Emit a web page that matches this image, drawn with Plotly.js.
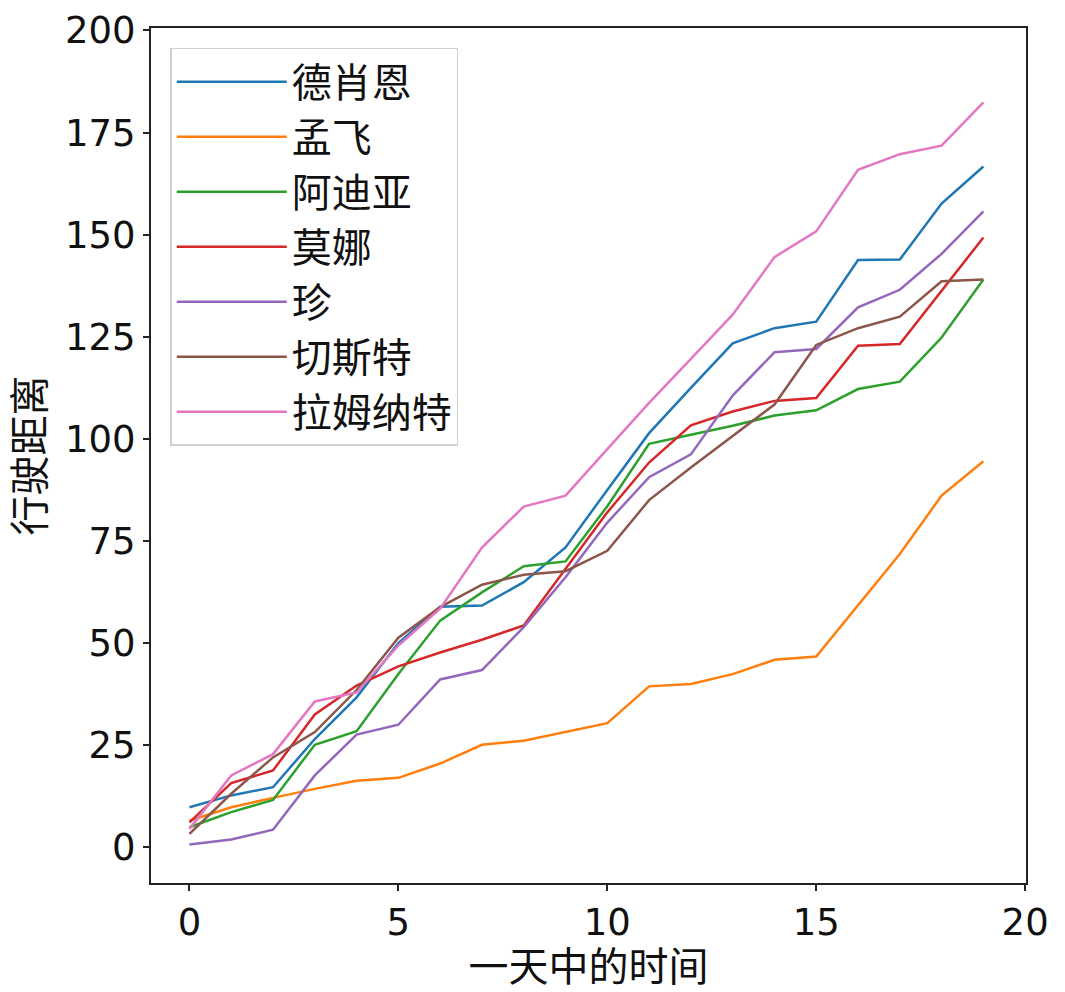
<!DOCTYPE html>
<html>
<head>
<meta charset="utf-8">
<script src="https://cdn.plot.ly/plotly-3.0.1.min.js"></script>
<style>
  html, body { margin: 0; padding: 0; background: #fff; }
  #chart { width: 1065px; height: 992px; }
</style>
</head>
<body>
<div id="chart"></div>
<script>
const hours = [0, 1, 2, 3, 4, 5, 6, 7, 8, 9, 10, 11, 12, 13, 14, 15, 16, 17, 18, 19];

const names = ["德肖恩", "孟飞", "阿迪亚", "莫娜", "珍", "切斯特", "拉姆纳特"];

const deshawn = [9.8, 12.7, 14.7, 26.5, 36.7, 50.0, 58.9, 59.2, 64.9, 73.4, 87.5, 101.4, 112.5, 123.4, 127.1, 128.7, 143.8, 143.9, 157.6, 166.7];
const mengfei = [6.5, 9.8, 12.1, 14.3, 16.3, 17.0, 20.5, 25.1, 26.1, 28.2, 30.4, 39.4, 40.0, 42.4, 45.9, 46.7, 59.2, 71.8, 86.1, 94.5];
const aditya = [4.9, 8.6, 11.6, 25.1, 28.4, 42.4, 55.5, 62.4, 68.8, 70.0, 83.5, 98.8, 101.0, 103.2, 105.7, 107.0, 112.2, 114.0, 124.8, 139.0];
const mona = [6.1, 15.7, 18.8, 32.5, 39.6, 44.3, 47.7, 50.8, 54.3, 68.1, 82.0, 94.2, 103.3, 106.7, 109.3, 110.0, 122.8, 123.2, 136.3, 149.3];
const jane = [0.7, 1.9, 4.3, 17.6, 27.6, 30.0, 41.1, 43.4, 53.9, 66.1, 79.5, 90.6, 96.2, 110.6, 121.2, 122.0, 132.2, 136.5, 145.3, 155.7];
const chester = [3.3, 13.1, 22.0, 28.2, 38.5, 51.3, 58.8, 64.3, 66.7, 67.6, 72.6, 85.0, 93.0, 100.8, 108.4, 123.0, 127.1, 129.9, 138.6, 139.0];
const ramnath = [4.5, 17.6, 22.8, 35.7, 37.9, 49.4, 58.4, 73.4, 83.4, 86.1, 97.5, 108.8, 119.6, 130.4, 144.5, 150.8, 165.9, 169.7, 171.8, 182.4];

const series = [deshawn, mengfei, aditya, mona, jane, chester, ramnath];
const colors = ["#1f77b4", "#ff7f0e", "#2ca02c", "#d62728", "#9467bd", "#8c564b", "#e377c2"];

const fontFamily = "DejaVu Sans, Noto Sans CJK SC, sans-serif";

const traces = series.map((values, i) => ({
  x: hours,
  y: values,
  name: names[i],
  type: "scatter",
  mode: "lines",
  line: {color: colors[i], width: 2.5}
}));

const axisStyle = {
  showline: true,
  linecolor: "#222",
  linewidth: 2,
  mirror: true,
  showgrid: false,
  zeroline: false,
  ticks: "outside",
  ticklen: 6,
  tickwidth: 2,
  tickcolor: "#222",
  tickfont: {family: fontFamily, size: 37, color: "#111"}
};

const layout = {
  width: 1065,
  height: 992,
  margin: {l: 151, r: 39, t: 28, b: 109},
  paper_bgcolor: "#fff",
  plot_bgcolor: "#fff",
  showlegend: true,
  legend: {
    x: 0.022,
    y: 0.977,
    xanchor: "left",
    yanchor: "top",
    bgcolor: "#fff",
    bordercolor: "#d0d0d0",
    borderwidth: 1.5,
    itemwidth: 110,
    font: {family: fontFamily, size: 40, color: "#111"}
  },
  xaxis: Object.assign({}, axisStyle, {
    range: [-0.92, 20.02],
    tickmode: "linear",
    tick0: 0,
    dtick: 5,
    title: {text: "一天中的时间", font: {family: fontFamily, size: 40, color: "#111"}, standoff: 6}
  }),
  yaxis: Object.assign({}, axisStyle, {
    range: [-8.75, 200.6],
    tickmode: "linear",
    tick0: 0,
    dtick: 25,
    title: {text: "行驶距离", font: {family: fontFamily, size: 40, color: "#111"}, standoff: 8}
  })
};

Plotly.newPlot("chart", traces, layout, {displayModeBar: false, staticPlot: true});
</script>
</body>
</html>
